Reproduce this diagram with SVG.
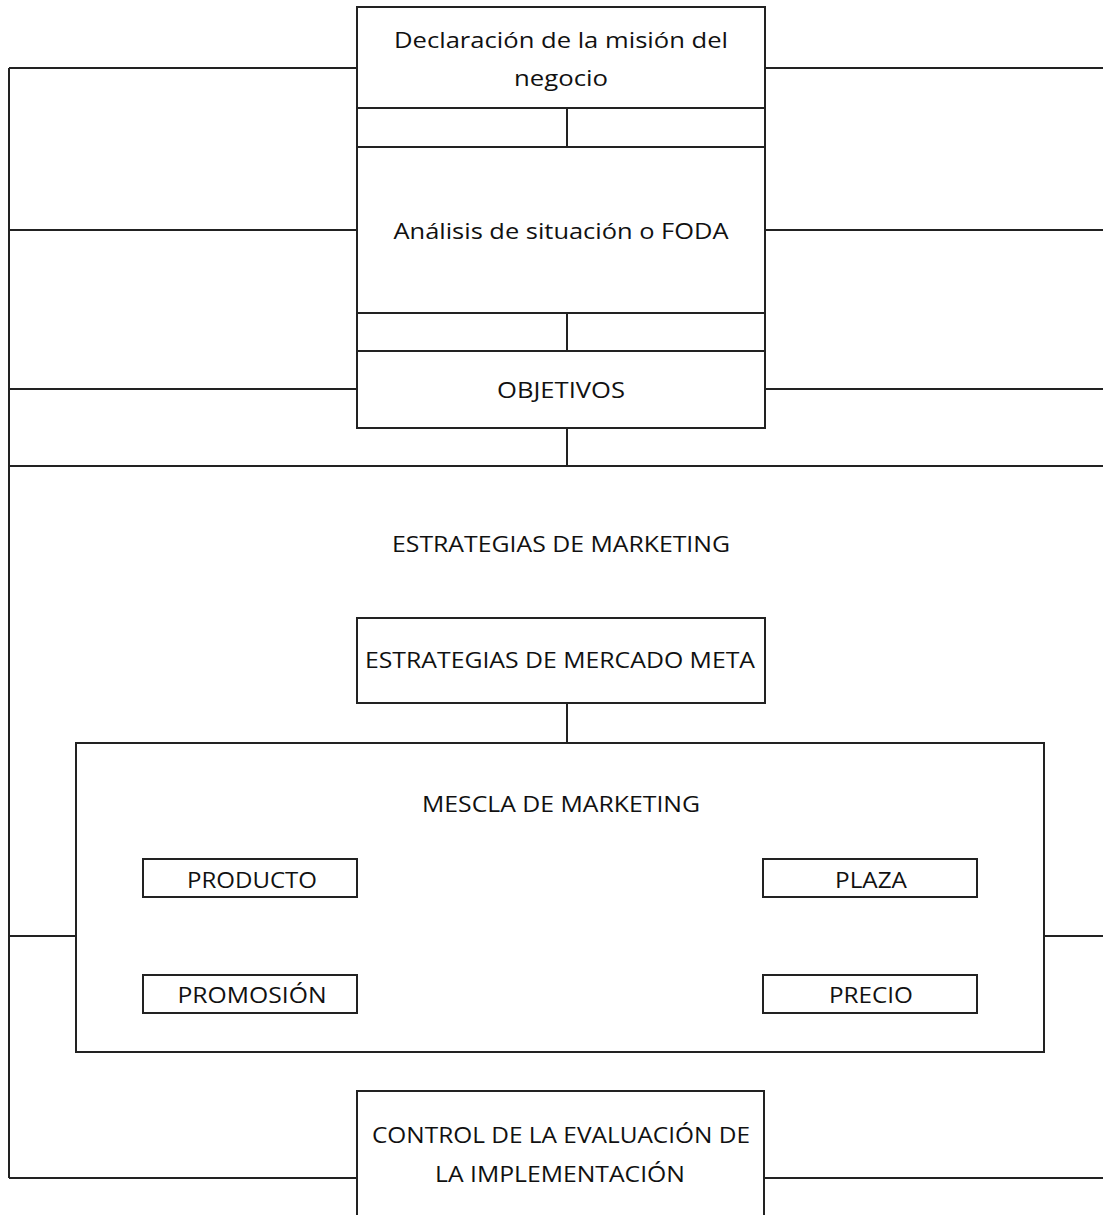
<svg xmlns="http://www.w3.org/2000/svg" width="1103" height="1215" viewBox="0 0 1103 1215">
  <style>
    .box { fill: #ffffff; stroke: #222222; stroke-width: 2; }
    .wire { fill: none; stroke: #222222; stroke-width: 2; }
    .lbl { font-family: "Open Sans", Lato, "Liberation Sans", sans-serif; font-size: 22.5px; fill: #111111; text-anchor: middle; }
  </style>
  <rect x="0" y="0" width="1103" height="1215" fill="#ffffff"/>

  <!-- connectors -->
  <g id="connectors">
    <!-- left spine -->
    <path class="wire" d="M9,68 V1178"/>
    <!-- branches off the left spine -->
    <path class="wire" d="M9,68 H357 M9,230 H357 M9,389 H357 M9,936 H76 M9,1178 H357"/>
    <!-- branches running to the right edge -->
    <path class="wire" d="M765,68 H1103 M765,230 H1103 M765,389 H1103 M1044,936 H1103 M764,1178 H1103"/>
    <!-- central links -->
    <path class="wire" d="M567,108 V147 M567,313 V351 M567,428 V466 M567,703 V743"/>
    <!-- full-width divider -->
    <path class="wire" d="M9,466 H1103"/>
    <!-- links between stacked boxes -->
    <path class="wire" d="M357,108 V147 M765,108 V147 M357,313 V351 M765,313 V351"/>
  </g>

  <g id="mision">
    <rect class="box" x="357" y="7" width="408" height="101"/>
    <text class="lbl" x="561" y="48" textLength="334" lengthAdjust="spacingAndGlyphs">Declaración de la misión del</text>
    <text class="lbl" x="561" y="86" textLength="94" lengthAdjust="spacingAndGlyphs">negocio</text>
  </g>

  <g id="foda">
    <rect class="box" x="357" y="147" width="408" height="166"/>
    <text class="lbl" x="561" y="239" textLength="335" lengthAdjust="spacingAndGlyphs">Análisis de situación o FODA</text>
  </g>

  <g id="objetivos">
    <rect class="box" x="357" y="351" width="408" height="77"/>
    <text class="lbl" x="561" y="398" textLength="128" lengthAdjust="spacingAndGlyphs">OBJETIVOS</text>
  </g>

  <g id="estrategias-marketing">
    <text class="lbl" x="561" y="552" textLength="338" lengthAdjust="spacingAndGlyphs">ESTRATEGIAS DE MARKETING</text>
  </g>

  <g id="mercado-meta">
    <rect class="box" x="357" y="618" width="408" height="85"/>
    <text class="lbl" x="560" y="668" textLength="390" lengthAdjust="spacingAndGlyphs">ESTRATEGIAS DE MERCADO META</text>
  </g>

  <g id="mescla">
    <rect class="box" x="76" y="743" width="968" height="309"/>
    <text class="lbl" x="561" y="812" textLength="278" lengthAdjust="spacingAndGlyphs">MESCLA DE MARKETING</text>
  </g>

  <g id="producto">
    <rect class="box" x="143" y="859" width="214" height="38"/>
    <text class="lbl" x="252" y="888" textLength="130" lengthAdjust="spacingAndGlyphs">PRODUCTO</text>
  </g>

  <g id="plaza">
    <rect class="box" x="763" y="859" width="214" height="38"/>
    <text class="lbl" x="871" y="888" textLength="72" lengthAdjust="spacingAndGlyphs">PLAZA</text>
  </g>

  <g id="promocion">
    <rect class="box" x="143" y="975" width="214" height="38"/>
    <text class="lbl" x="252" y="1003" textLength="149" lengthAdjust="spacingAndGlyphs">PROMOSIÓN</text>
  </g>

  <g id="precio">
    <rect class="box" x="763" y="975" width="214" height="38"/>
    <text class="lbl" x="871" y="1003" textLength="84" lengthAdjust="spacingAndGlyphs">PRECIO</text>
  </g>

  <g id="control">
    <rect class="box" x="357" y="1091" width="407" height="140"/>
    <text class="lbl" x="561" y="1143" textLength="378" lengthAdjust="spacingAndGlyphs">CONTROL DE LA EVALUACIÓN DE</text>
    <text class="lbl" x="560" y="1182" textLength="250" lengthAdjust="spacingAndGlyphs">LA IMPLEMENTACIÓN</text>
  </g>
</svg>
